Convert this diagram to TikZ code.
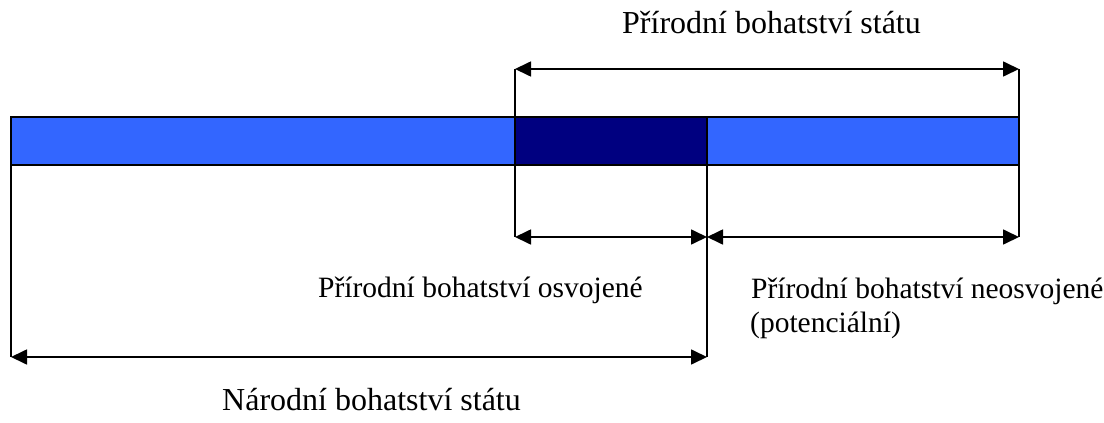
\documentclass[tikz,border=0pt]{standalone}
\usepackage{fontspec}
\setmainfont{Liberation Serif}
\usetikzlibrary{arrows.meta}
\definecolor{barblue}{HTML}{3366FF}
\definecolor{bardark}{HTML}{000080}
\tikzset{
  dim/.style={line width=1.7pt, {Triangle[length=16pt,width=15pt]}-{Triangle[length=16pt,width=15pt]}},
  ext/.style={line width=1.7pt},
  barpart/.style={draw=black, line width=1.8pt},
  title/.style={inner sep=0pt, anchor=base west, font=\fontsize{32}{38}\selectfont},
  label/.style={inner sep=0pt, anchor=base west, font=\fontsize{29.5}{34}\selectfont},
}
\begin{document}
\begin{tikzpicture}[x=1pt, y=-1pt]
  \useasboundingbox (0,0) rectangle (1104,423);
  % bar corners and split points
  \coordinate (bl) at (11,117);
  \coordinate (br) at (1019,165);
  \coordinate (dl) at (515,117);
  \coordinate (dr) at (707,165);
  % the bar: light blue with the dark (used) section
  \fill[barblue] (bl) rectangle (br);
  \fill[bardark] (dl) rectangle (dr);
  \draw[barpart] (bl) rectangle (br);
  \draw[barpart] (dl |- bl) -- (dl |- br);
  \draw[barpart] (dr |- bl) -- (dr |- br);
  % dimension end points
  \coordinate (t1) at (515,69);
  \coordinate (t2) at (1019,69);
  \coordinate (m1) at (515,237);
  \coordinate (m2) at (707,237);
  \coordinate (m3) at (1019,237);
  \coordinate (b1) at (11,357);
  \coordinate (b2) at (707,357);
  % extension lines
  \draw[ext] (t1) -- (m1);
  \draw[ext] (t2) -- (m3);
  \draw[ext] (dr |- bl) -- (b2);
  \draw[ext] (bl) -- (b1);
  % dimension arrows
  \draw[dim] (t1) -- (t2);
  \draw[dim] (m1) -- (m2);
  \draw[dim] (m2) -- (m3);
  \draw[dim] (b1) -- (b2);
  % labels
  \node[title] (prir) at (622,33) {Přírodní bohatství státu};
  \node[label] (osv) at (318,297) {Přírodní bohatství osvojené};
  \node[label] (neosv) at (751,298) {Přírodní bohatství neosvojené};
  \node[label] (pot) at (750,332) {(potenciální)};
  \node[title] (nar) at (222,410) {Národní bohatství státu};
\end{tikzpicture}
\end{document}
